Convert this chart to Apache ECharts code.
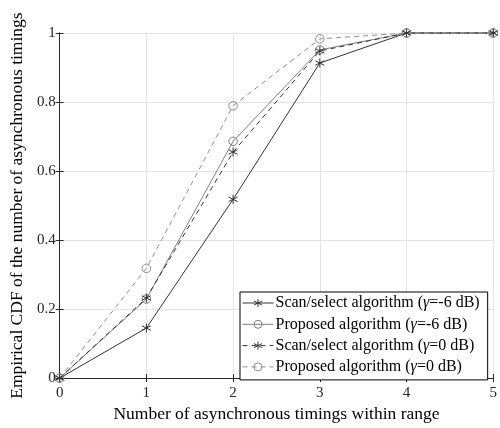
<!DOCTYPE html>
<html><head><meta charset="utf-8">
<script src="https://cdn.jsdelivr.net/npm/echarts@6/dist/echarts.min.js"></script>
<style>html,body{margin:0;padding:0;background:#fff}#c{width:500px;height:428px}</style>
</head><body><div id="c"></div>
<script>
var categories = [0, 1, 2, 3, 4, 5];
var scanNeg6 = [0, 0.145, 0.518, 0.913, 1, 1];
var propNeg6 = [0, 0.229, 0.686, 0.951, 1, 1];
var scan0 = [0, 0.232, 0.655, 0.948, 1, 1];
var prop0 = [0, 0.318, 0.789, 0.983, 1, 1];
var xTicks = [0, 1, 2, 3, 4, 5];
var yTicks = [0, 0.2, 0.4, 0.6, 0.8, 1];
var names = ['Scan/select algorithm (γ=-6 dB)', 'Proposed algorithm (γ=-6 dB)', 'Scan/select algorithm (γ=0 dB)', 'Proposed algorithm (γ=0 dB)'];

var FONT = 'Liberation Serif';
var AST = 'path://M0,-5L0,5M-4.33,-2.5L4.33,2.5M-4.33,2.5L4.33,-2.5';
function pairs(arr){ return categories.map(function(x,i){ return [x, arr[i]]; }); }
function mk(name, data, color, type, sym){
  var isAst = sym === 'ast';
  return {
    name: name, type: 'line', data: pairs(data),
    symbol: isAst ? AST : 'circle',
    symbolSize: isAst ? 9 : 8.5,
    showSymbol: true, clip: false,
    lineStyle: {color: color, width: 1, type: type === 'dashed' ? [5, 4] : 'solid'},
    itemStyle: isAst ? {color: 'rgba(0,0,0,0)', borderColor: color, borderWidth: 1}
                     : {color: 'rgba(255,255,255,0)', borderColor: color, borderWidth: 1},
    emphasis: {disabled: true},
    animation: false, z: 3
  };
}
var axisColor = '#262626';
var chart = echarts.init(document.getElementById('c'), null, {renderer: 'canvas'});
chart.setOption({
  backgroundColor: '#fff',
  animation: false,
  grid: {left: 57, right: 3, top: 33, bottom: 48.5, containLabel: false},
  legend: {
    orient: 'vertical', left: 240, top: 292,
    backgroundColor: '#fff', borderColor: '#000', borderWidth: 1,
    padding: [3, 8, 5, 2], itemGap: 5.3, itemWidth: 31, itemHeight: 10,
    lineStyle: {width: 1},
    itemStyle: {borderWidth: 1},
    textStyle: {fontFamily: FONT, fontSize: 16, color: '#000', padding: [0,0,0,-3],
      rich: {g: {fontFamily: FONT, fontStyle: 'italic', fontSize: 16, color: '#000'}}},
    formatter: function(n){ return n.replace('γ', '{g|γ}'); },
    selectedMode: false,
    data: names
  },
  xAxis: [{
    type: 'value', min: 0, max: 5, interval: 1,
    name: 'Number of asynchronous timings within range', nameLocation: 'middle', nameGap: 25,
    nameTextStyle: {fontFamily: FONT, fontSize: 17.5, color: '#000'},
    axisLine: {show: true, onZero: false, lineStyle: {color: axisColor, width: 1}},
    axisTick: {show: true, inside: true, length: 4, lineStyle: {color: axisColor}},
    axisLabel: {fontFamily: FONT, fontSize: 15, color: '#262626', margin: 7,
      formatter: function(v){ return xTicks.indexOf(v) >= 0 ? String(v) : ''; }},
    splitLine: {show: true, lineStyle: {color: '#e3e3e3', width: 1}}
  }, {
    type: 'value', min: 0, max: 5, interval: 1, position: 'top',
    axisLine: {show: true, lineStyle: {color: axisColor, width: 1}},
    axisTick: {show: true, inside: true, length: 4, lineStyle: {color: axisColor}},
    axisLabel: {show: false}, splitLine: {show: false}
  }],
  yAxis: [{
    type: 'value', min: 0, max: 1, interval: 0.2,
    name: 'Empirical CDF of the number of asynchronous timings', nameLocation: 'middle', nameGap: 31,
    nameTextStyle: {fontFamily: FONT, fontSize: 17.5, color: '#000'},
    axisLine: {show: true, onZero: false, lineStyle: {color: axisColor, width: 1}},
    axisTick: {show: true, inside: true, length: 4, lineStyle: {color: axisColor}},
    axisLabel: {fontFamily: FONT, fontSize: 15, color: '#262626', margin: 4,
      formatter: function(v){ var t = Math.round(v*10)/10; return yTicks.indexOf(t) >= 0 ? String(t) : ''; }},
    splitLine: {show: true, lineStyle: {color: '#e3e3e3', width: 1}}
  }, {
    type: 'value', min: 0, max: 1, interval: 0.2, position: 'right',
    axisLine: {show: true, lineStyle: {color: axisColor, width: 1}},
    axisTick: {show: true, inside: true, length: 4, lineStyle: {color: axisColor}},
    axisLabel: {show: false}, splitLine: {show: false}
  }],
  series: [
    mk(names[0], scanNeg6, '#333333', 'solid', 'ast'),
    mk(names[1], propNeg6, '#808080', 'solid', 'circ'),
    mk(names[2], scan0, '#333333', 'dashed', 'ast'),
    mk(names[3], prop0, '#909090', 'dashed', 'circ')
  ]
});
</script></body></html>
